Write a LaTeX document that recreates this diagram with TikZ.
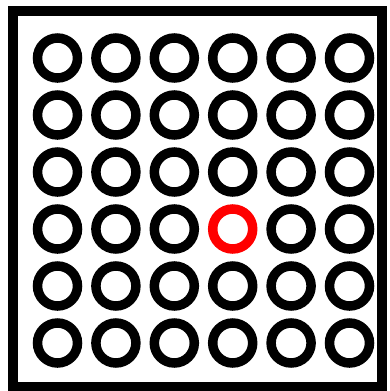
\documentclass[tikz,border=0pt]{standalone}
\usepackage{xcolor}
\usepackage{tikz}
\usetikzlibrary{positioning}
\definecolor{ringred}{HTML}{FF0000}

\begin{document}
\begin{tikzpicture}[
  x=1pt, y=-1pt,
  ring/.style={circle, draw=#1, line width=9.5pt, minimum size=40pt, inner sep=0pt},
  ring/.default=black,
]
  \useasboundingbox (0,0) rectangle (390,391);
  \draw[line width=10pt] (13,10.5) rectangle (381.5,386.5);
  % grid of rings, row 4 column 4 is the marked one
  \foreach \r in {1,...,6}{
    \foreach \c in {1,...,6}{
      \ifnum\r=4 \ifnum\c=4
        \node[ring=ringred] (ring-\r-\c) at ({57.5+58.4*(\c-1)},{58+57*(\r-1)}) {};
      \else
        \node[ring] (ring-\r-\c) at ({57.5+58.4*(\c-1)},{58+57*(\r-1)}) {};
      \fi
      \else
        \node[ring] (ring-\r-\c) at ({57.5+58.4*(\c-1)},{58+57*(\r-1)}) {};
      \fi
    }
  }
\end{tikzpicture}
\end{document}
